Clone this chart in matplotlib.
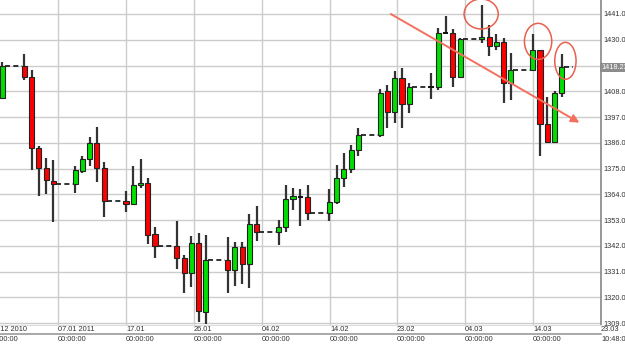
import numpy as np
import pandas as pd
import matplotlib
matplotlib.use('Agg')
import matplotlib.pyplot as plt
from matplotlib.patches import Rectangle, Ellipse
from matplotlib.lines import Line2D
from matplotlib.transforms import blended_transform_factory

plt.rcParams['font.family'] = ['Liberation Sans Narrow', 'Liberation Sans', 'DejaVu Sans']

# daily bars, 31.12.2010 .. 18.03.2011 (weekdays only)
dates = pd.bdate_range('2010-12-31', '2011-03-18')

opens = [1405.1, 1418.8, 1414.0, 1383.6, 1375.1, 1369.8, 1368.4, 1374.1, 1378.9, 1385.8,
         1375.1, 1361.1, 1359.7, 1367.8, 1368.7, 1346.9, 1341.9, 1336.9, 1330.2, 1343.0,
         1313.8, 1335.9, 1331.6, 1341.3, 1334.1, 1351.3, 1347.7, 1349.9, 1361.8, 1363.0,
         1362.7, 1355.9, 1360.5, 1370.8, 1374.7, 1382.8, 1389.3, 1408.1, 1399.0, 1413.5,
         1402.4, 1409.8, 1409.7, 1432.8, 1432.8, 1414.0, 1430.2, 1431.3, 1427.5, 1428.9,
         1411.4, 1417.1, 1425.6, 1394.0, 1386.4, 1407.1]
highs = [1420.5, 1423.8, 1417.1, 1384.6, 1379.5, 1378.6, 1376.1, 1380.5, 1388.3, 1392.9,
         1377.7, 1365.5, 1376.1, 1379.1, 1370.8, 1350.0, 1352.7, 1338.0, 1346.2, 1347.4,
         1346.6, 1345.6, 1343.6, 1343.6, 1355.6, 1359.1, 1353.0, 1368.0, 1366.5, 1366.2,
         1368.0, 1366.4, 1376.4, 1381.5, 1384.9, 1392.2, 1408.8, 1410.7, 1416.7, 1417.8,
         1411.4, 1415.9, 1434.9, 1440.1, 1434.5, 1430.6, 1444.8, 1436.3, 1432.3, 1430.6,
         1424.2, 1432.3, 1425.6, 1405.7, 1408.2, 1423.8]
lows = [1404.6, 1412.8, 1374.4, 1363.4, 1364.1, 1352.3, 1364.7, 1373.2, 1376.2, 1369.1,
        1354.4, 1356.5, 1359.3, 1366.5, 1342.7, 1336.9, 1331.9, 1321.9, 1324.2, 1309.5,
        1308.6, 1321.9, 1324.8, 1325.7, 1324.1, 1344.2, 1342.3, 1347.7, 1357.3, 1350.4,
        1353.0, 1352.7, 1359.8, 1367.2, 1373.2, 1380.5, 1388.3, 1392.2, 1394.6, 1392.2,
        1398.9, 1404.6, 1408.5, 1432.3, 1409.9, 1414.0, 1428.5, 1423.1, 1425.6, 1402.9,
        1404.3, 1417.1, 1380.3, 1386.4, 1386.1, 1405.7]
closes = [1418.8, 1414.0, 1383.6, 1375.1, 1370.0, 1368.4, 1374.4, 1378.9, 1385.8, 1375.1,
          1361.0, 1360.0, 1367.8, 1368.7, 1346.7, 1341.7, 1336.9, 1330.2, 1343.0, 1314.0,
          1335.9, 1331.6, 1341.3, 1334.1, 1351.3, 1347.7, 1349.9, 1361.8, 1363.3, 1363.0,
          1355.9, 1360.6, 1370.8, 1374.7, 1382.8, 1389.3, 1407.4, 1399.0, 1413.5, 1402.4,
          1409.7, 1409.8, 1433.0, 1432.8, 1414.0, 1430.3, 1431.3, 1427.5, 1428.9, 1411.4,
          1417.1, 1425.6, 1393.9, 1386.4, 1407.1, 1418.2]
last_price = 1418.23

price_ticks = [1309, 1320, 1331, 1342, 1353, 1364, 1375, 1386, 1397, 1408, 1419, 1430, 1441]
# grid positions in days from 31.12.2010
date_ticks = [-1.73, 7.64, 17.0, 26.37, 35.73, 45.1, 54.3, 63.7, 73.05, 82.4]
date_labels = ['30.12 2010', '07.01 2011', '17.01', '26.01', '04.02', '14.02',
               '23.02', '04.03', '14.03', '23.03']
time_labels = ['00:00:00'] * 9 + ['10:48:00']

# hand drawn marks (day, price)
trend_start = (53.46, 1441.0)
trend_end = (79.43, 1394.6)
circles = [(65.9, 1441.0, 4.7, 12.8), (73.74, 1429.3, 3.76, 15.4), (77.5, 1421.0, 2.93, 15.8)]

days = np.asarray((dates - dates[0]).days, dtype=float)

fig = plt.figure(figsize=(6.25, 3.44), dpi=100)
ax = fig.add_axes([0, 19 / 344, 601 / 625, 325 / 344])

fs = 5.3
ax.set_yticks(price_ticks)
ax.set_yticklabels([f'{p:.2f}' for p in price_ticks])
ax.yaxis.tick_right()
ax.tick_params(axis='y', length=0, pad=2, labelsize=fs, labelcolor='#333333')
ax.set_xticks(date_ticks)
ax.set_xticklabels([])
ax.tick_params(axis='x', length=0)
ax.set_xlim(-0.344, 82.4)
ax.set_ylim(1308.15, 1446.98)
ax.grid(True, color='#cccccc', lw=1)
ax.set_axisbelow(True)
for s in ['left', 'top']:
    ax.spines[s].set_visible(False)
ax.spines['right'].set_color('#888888')
ax.spines['right'].set_linewidth(1.2)
ax.spines['bottom'].set_color('#dddddd')

# date and time rows under the plot
tr = blended_transform_factory(ax.transData, fig.transFigure)
for x, dl, tl in zip(date_ticks, date_labels, time_labels):
    ax.text(x, 11 / 344, dl, transform=tr, ha='left', va='bottom', fontsize=fs,
            color='#333333', clip_on=False)
    ax.text(x, 1 / 344, tl, transform=tr, ha='left', va='bottom', fontsize=fs,
            color='#333333', clip_on=False)
fig.add_artist(Line2D([0, 601 / 625], [10 / 344, 10 / 344], color='#999999', lw=1.2))

w = 0.7
for d, o, h, l, c in zip(days, opens, highs, lows, closes):
    ax.vlines(d, l, h, color='#333333', lw=1.6, zorder=2)
    if abs(c - o) < 0.05:
        ax.hlines(o, d - w / 2, d + w / 2, color='#111111', lw=1.4, zorder=3)
        continue
    col = '#00e000' if c > o else '#ff0000'
    ax.add_patch(Rectangle((d - w / 2, min(o, c)), w, abs(c - o), fc=col, ec='#222222',
                           lw=0.8, zorder=3))

# weekend gaps drawn as dashed lines at friday close
for i, dt in enumerate(dates):
    if dt.dayofweek == 4:
        x_end = days[i + 1] - w / 2 if i + 1 < len(days) else days[i] + 1.5
        ax.hlines(closes[i], days[i] + w / 2, x_end, color='#111111', lw=1.2,
                  linestyles=(0, (3, 2)), zorder=2)

ax.text(1.0, last_price, f'{last_price:.2f}', transform=ax.get_yaxis_transform(),
        ha='left', va='center', fontsize=fs, color='white', zorder=5, clip_on=False,
        bbox=dict(boxstyle='square,pad=0.15', fc='#8c8c8c', ec='none'))

ax.annotate('', xy=trend_end, xytext=trend_start,
            arrowprops=dict(arrowstyle='-|>', color='#f3705f', lw=1.4, mutation_scale=12,
                            shrinkA=0, shrinkB=0), zorder=6)
for cx, cy, ew, eh in circles:
    ax.add_patch(Ellipse((cx, cy), ew, eh, fill=False, ec='#e8604f', lw=1.1, zorder=6))

fig.savefig('out.png', dpi=100)
